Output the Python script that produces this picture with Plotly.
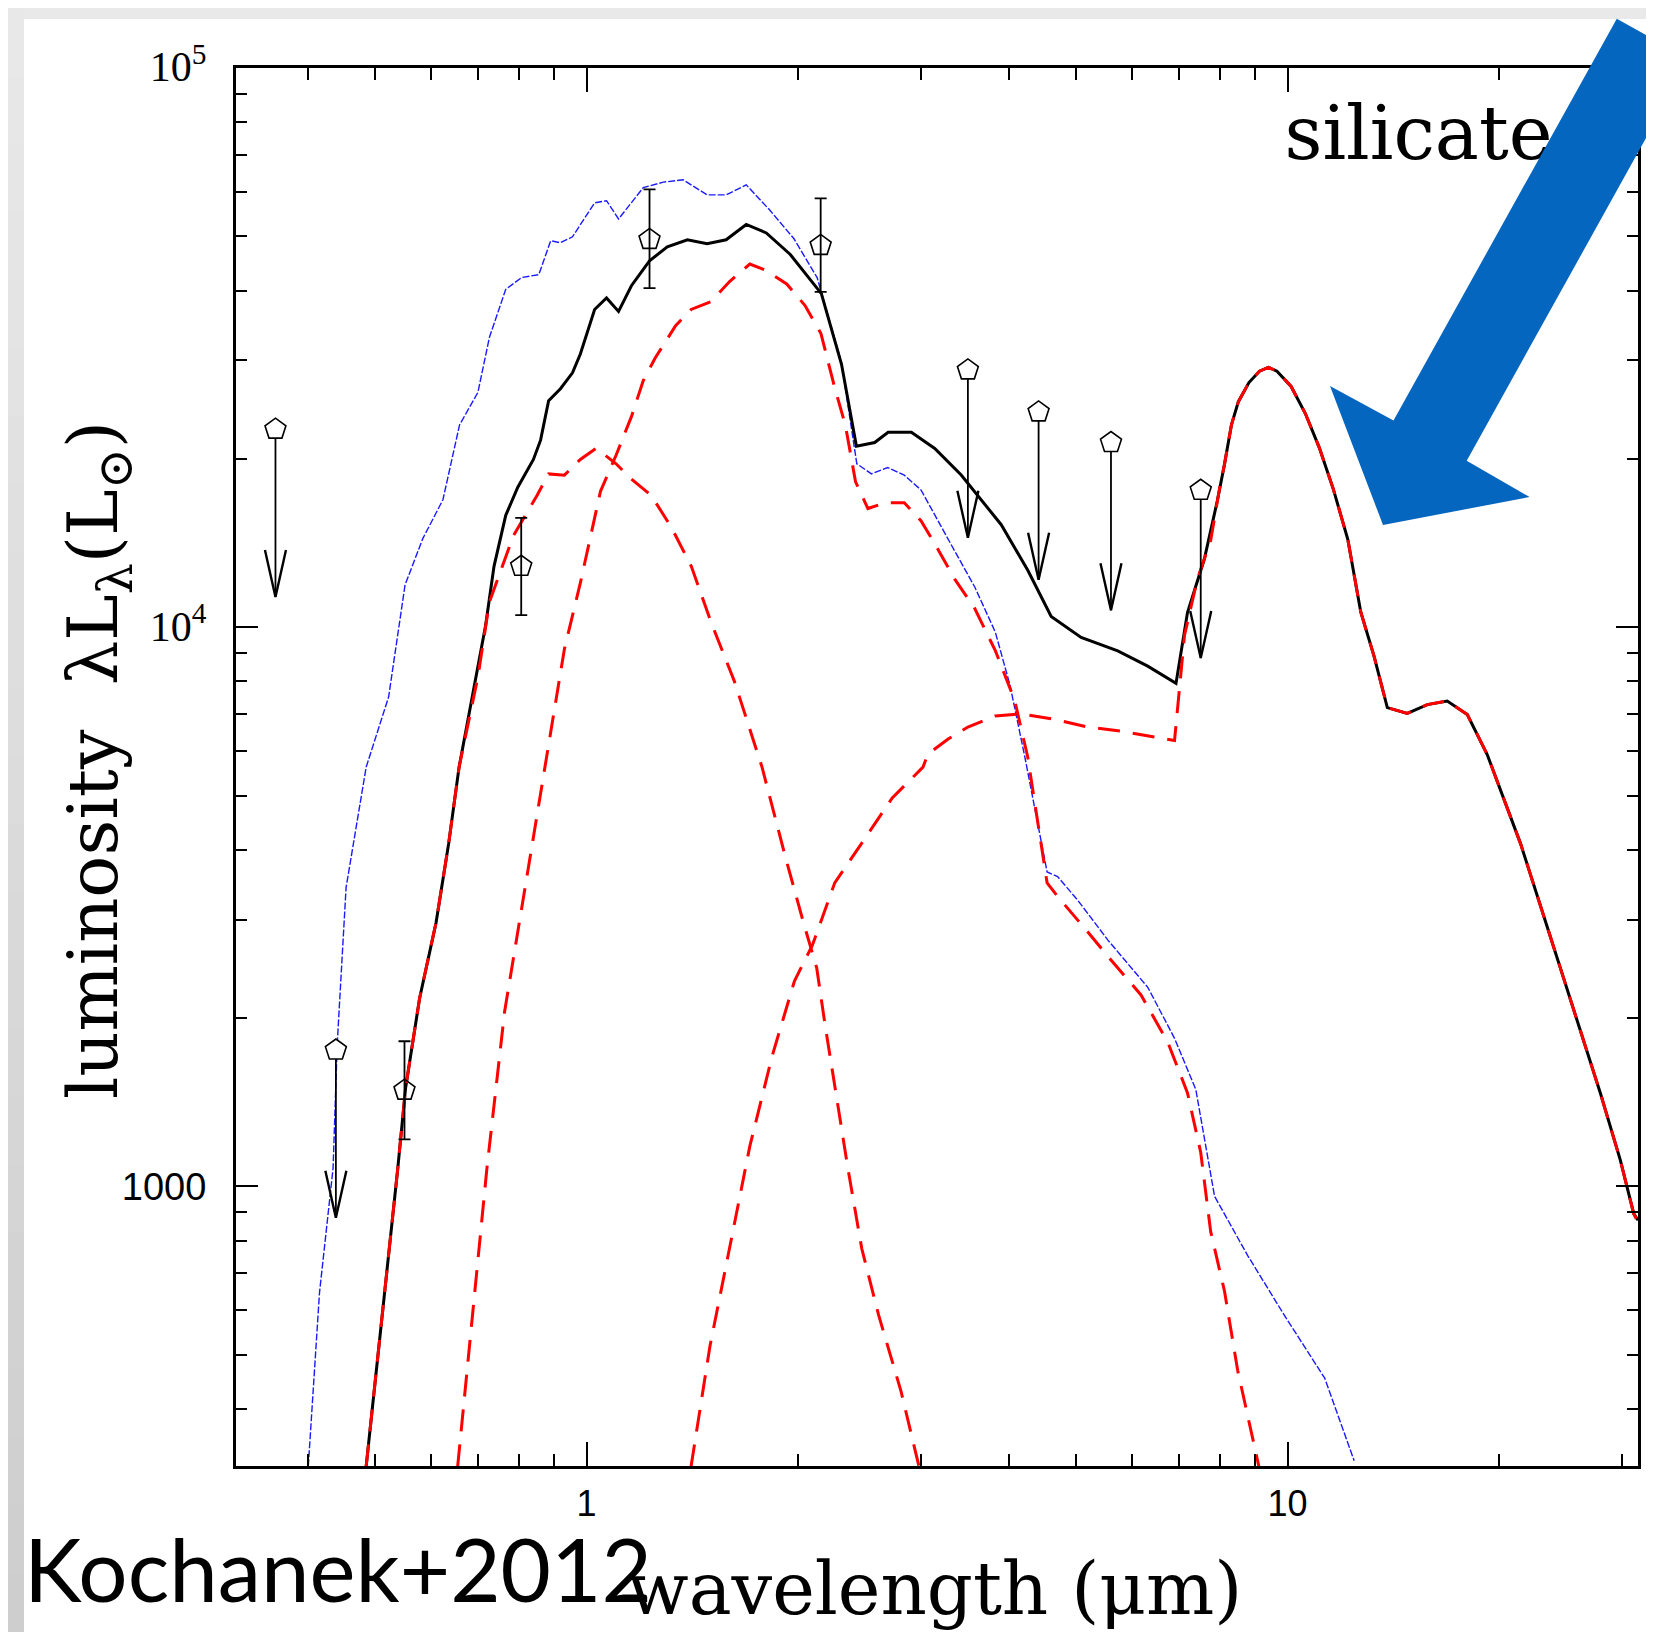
import numpy as np
import plotly.graph_objects as go

# ---------------- data (wavelength in micron, luminosity in L_sun) ----------------
blue_wl = [0.401, 0.416, 0.435, 0.441, 0.454, 0.471, 0.485, 0.522, 0.551, 0.584, 0.624, 0.659,
           0.700, 0.727, 0.767, 0.808, 0.855, 0.889, 0.918, 0.955, 1.027, 1.068, 1.111, 1.205,
           1.287, 1.374, 1.486, 1.582, 1.690, 1.828, 1.977, 2.133, 2.31, 2.43, 2.55, 2.69, 2.84,
           3.00, 3.17, 3.35, 3.58, 3.83, 4.02, 4.22, 4.54, 4.70, 5.02, 5.54, 6.32, 6.90, 7.40,
           7.61, 7.87, 8.77, 9.89, 11.3, 12.45]
blue_L = [316, 645, 1078, 1802, 3425, 4512, 5623, 7500, 11900, 14400, 16900, 23000,
          26300, 33000, 40200, 42200, 42700, 49100, 48700, 49900, 57400, 57900, 53700, 61100,
          62500, 63100, 59300, 59300, 61800, 55600, 49500, 42200, 29800, 19600, 18800, 19300, 18700,
          17600, 15500, 13700, 11800, 9800, 7870, 5860, 3650, 3580, 3250, 2760, 2270, 1840, 1490,
          1220, 960, 753, 589, 454, 323]

total_wl = [0.485, 0.514, 0.538, 0.552, 0.578, 0.610, 0.636, 0.658, 0.690, 0.718, 0.738, 0.767,
            0.798, 0.840, 0.860, 0.883, 0.918, 0.955, 0.980, 1.027, 1.068, 1.111, 1.159, 1.230,
            1.304, 1.393, 1.486, 1.582, 1.690, 1.805, 1.953, 2.163, 2.311, 2.427, 2.577, 2.693,
            2.907, 3.139, 3.424, 3.905, 4.263, 4.601, 5.077, 5.726, 6.318, 6.933, 7.20, 7.61,
            7.94, 8.12, 8.32, 8.51, 8.81, 9.12, 9.39, 9.66, 10.12, 10.6, 11.1, 11.63, 12.19,
            12.72, 13.29, 13.88, 14.82, 15.83, 16.90, 18.05, 19.27, 20.36, 21.50, 22.96, 24.51,
            26.17, 27.95, 29.84, 31.18, 31.62]
total_L = [316, 621, 1077, 1500, 2170, 2960, 4110, 5620, 7740, 10080, 12850, 15850,
           17800, 19950, 21600, 25400, 26700, 28500, 30800, 37000, 38800, 36700, 40800, 45200,
           47900, 49300, 48500, 49300, 52500, 50700, 46400, 39500, 29530, 21060, 21390, 22320,
           22320, 20880, 18710, 15250, 12630, 10450, 9585, 9073, 8518, 7935, 10620, 13240,
           16810, 19390, 23030, 25310, 27380, 28700, 29160, 28700, 26950, 24130, 20950, 17620, 14360,
           10650, 8866, 7180, 7010, 7270, 7380, 6980, 5920, 4927, 4102, 3172, 2453,
           1897, 1467, 1114, 894, 870]

# red dashed components
hot_wl = [0.485, 0.514, 0.538, 0.552, 0.578, 0.610, 0.636, 0.658, 0.700, 0.727, 0.787, 0.850,
          0.883, 0.930, 0.980, 1.033, 1.102, 1.159, 1.237, 1.321, 1.411, 1.504, 1.625, 1.780,
          1.920, 2.040, 2.130, 2.190, 2.250, 2.360, 2.470, 2.610, 2.810, 2.980]
hot_L = [316, 621, 1077, 1500, 2170, 2960, 4110, 5620, 8150, 11100, 14600, 17200,
         18800, 18700, 19950, 20900, 19600, 18400, 17200, 15100, 12850, 10240, 8010, 5620,
         3900, 2960, 2460, 1940, 1560, 1077, 774, 589, 430, 316]

star_wl = [0.655, 0.690, 0.721, 0.764, 0.811, 0.871, 0.930, 0.980, 1.047, 1.102, 1.159, 1.205,
           1.253, 1.340, 1.410, 1.504, 1.600, 1.710, 1.800, 1.930, 2.050, 2.160, 2.260, 2.340,
           2.420, 2.520, 2.670, 2.840, 3.000, 3.140, 3.350, 3.580, 3.830, 4.080, 4.260, 4.540,
           4.700, 5.190, 5.600, 6.180, 6.750, 7.200, 7.520, 7.770, 8.130, 8.490, 8.970, 9.100]
star_L = [316, 621, 1077, 2050, 3240, 5620, 9140, 12000, 17500, 20300, 23800, 27600,
          30300, 34600, 37000, 38200, 41500, 44600, 43500, 41100, 37600, 33500, 26800, 23000,
          18200, 16300, 16700, 16700, 15500, 14100, 12200, 10800, 9080, 7410, 5860, 3490,
          3300, 2850, 2540, 2200, 1810, 1470, 1150, 830, 650, 469, 339, 316]

dust_wl = [1.41, 1.50, 1.59, 1.71, 1.84, 1.98, 2.10, 2.26, 2.47, 2.73, 3.02, 3.07, 3.28, 3.50,
           3.83, 4.17, 4.66, 5.19, 5.78, 6.46, 6.90, 7.02, 7.13, 7.44, 7.77, 8.03, 8.12, 8.32,
           8.51, 8.81, 9.12, 9.39, 9.66, 10.12, 10.6, 11.1, 11.63, 12.19, 12.72, 13.29, 13.88,
           14.82, 15.83, 16.90, 18.05, 19.27, 20.36, 21.50, 22.96, 24.51, 26.17, 27.95, 29.84,
           31.18, 31.62]
dust_L = [316, 518, 746, 1180, 1710, 2330, 2700, 3490, 4110, 4950, 5620, 5930, 6310, 6630,
          6940, 7000, 6840, 6630, 6520, 6360, 6270, 7870, 9680, 12200, 14300, 18200, 19390, 23030,
          25310, 27380, 28700, 29160, 28700, 26950, 24130, 20950, 17620, 14360, 10650, 8866, 7180,
          7010, 7270, 7380, 6980, 5920, 4927, 4102, 3172, 2453, 1897, 1467, 1114,
          894, 863]

# photometric detections with error bars
det_wl = [0.550, 0.807, 1.230, 2.158]
det_L = [1486, 12850, 49360, 48160]
det_hi = [1818, 15690, 60670, 58460]
det_lo = [1214, 10510, 40410, 39770]

# upper limits
lim_wl = [0.360, 0.439, 3.50, 4.415, 5.60, 7.52]
lim_L = [22600, 1753, 28840, 24260, 21390, 17570]

x_tickvals = [1, 10]
x_ticktext = ["1", "10"]
y_tickvals = [1000, 1e4, 1e5]
SERIF_SPAN = '<span style="font-family:\'Liberation Serif\';font-size:42px">'
y_ticktext = ["1000",
              SERIF_SPAN + "10<sup>4</sup></span>",
              SERIF_SPAN + "10<sup>5</sup></span>"]
x_minor = [0.4, 0.5, 0.6, 0.7, 0.8, 0.9, 2, 3, 4, 5, 6, 7, 8, 9, 20, 30]
y_minor = [400, 500, 600, 700, 800, 900, 2000, 3000, 4000, 5000, 6000, 7000, 8000, 9000,
           20000, 30000, 40000, 50000, 60000, 70000, 80000, 90000]

# ---------------- figure ----------------
W, H = 1654, 1632
L_M, R_M, T_M, B_M = 228, 24, 60, 174
PW, PH = W - L_M - R_M, H - T_M - B_M


def px(X):
    return (X - L_M) / PW


def py(Y):
    return (H - B_M - Y) / PH


fig = go.Figure()

fig.add_trace(go.Scatter(x=blue_wl, y=blue_L, mode="lines",
                         line=dict(color="#1a1aff", width=1.4, dash="7px,2px")))
fig.add_trace(go.Scatter(x=total_wl, y=total_L, mode="lines",
                         line=dict(color="black", width=3)))
for wl, lum in [(hot_wl, hot_L), (star_wl, star_L), (dust_wl, dust_L)]:
    fig.add_trace(go.Scatter(x=wl, y=lum, mode="lines",
                             line=dict(color="#ff0000", width=3, dash="22px,13px")))

# detections
det_L_a = np.array(det_L)
fig.add_trace(go.Scatter(
    x=det_wl, y=det_L, mode="markers",
    marker=dict(symbol="pentagon-open", size=22, color="black", line=dict(width=1.6, color="black")),
    error_y=dict(type="data", symmetric=False,
                 array=list(np.array(det_hi) - det_L_a),
                 arrayminus=list(det_L_a - np.array(det_lo)),
                 color="black", thickness=1.8, width=6)))

# upper limits: stem + V arrowhead, computed from the data values
drop = 10 ** -0.30
head_dy = 10 ** 0.084
head_dx = 10 ** 0.015
sx, sy, hx, hy = [], [], [], []
for w, l in zip(lim_wl, lim_L):
    tip = l * drop
    sx += [w, w, None]
    sy += [l, tip, None]
    hx += [w / head_dx, w, w * head_dx, None]
    hy += [tip * head_dy, tip, tip * head_dy, None]
fig.add_trace(go.Scatter(x=sx, y=sy, mode="lines", line=dict(color="black", width=1.8)))
fig.add_trace(go.Scatter(x=hx, y=hy, mode="lines", line=dict(color="black", width=2.4)))
fig.add_trace(go.Scatter(
    x=lim_wl, y=lim_L, mode="markers",
    marker=dict(symbol="pentagon", size=22, color="white", line=dict(width=1.6, color="black"))))

# "silicate" label (as trace text so the arrow can cover it)
fig.add_trace(go.Scatter(x=[9.9], y=[74100], mode="text", text=["silicate"],
                         textposition="middle right",
                         textfont=dict(family="DejaVu Serif", size=74, color="black")))

axis_common = dict(type="log", showgrid=False, zeroline=False, showline=True, linecolor="black",
                   linewidth=3, mirror="ticks", ticks="inside", tickcolor="black", tickwidth=2)

fig.update_layout(
    width=W, height=H, autosize=False,
    margin=dict(l=L_M, r=R_M, t=T_M, b=B_M, pad=0),
    paper_bgcolor="white", plot_bgcolor="white", showlegend=False,
    xaxis=dict(axis_common, range=[-0.5, 1.5], tickmode="array", tickvals=x_tickvals,
               ticktext=x_ticktext, ticklen=24, ticklabelstandoff=4,
               tickfont=dict(family="Liberation Sans", size=36, color="black"),
               minor=dict(tickmode="array", tickvals=x_minor, ticks="inside", ticklen=12,
                          tickwidth=1.8, tickcolor="black", showgrid=False)),
    yaxis=dict(axis_common, range=[2.5, 5.0], tickmode="array", tickvals=y_tickvals,
               ticktext=y_ticktext, ticklen=22, ticklabelstandoff=19,
               tickfont=dict(family="Liberation Sans", size=38, color="black"),
               minor=dict(tickmode="array", tickvals=y_minor, ticks="inside", ticklen=11,
                          tickwidth=1.8, tickcolor="black", showgrid=False)),
)

shapes = []
# slide background: top band and left strip with vertical gradient
shapes.append(dict(type="rect", xref="paper", yref="paper", x0=px(0), x1=px(W), y0=py(0), y1=py(11),
                   fillcolor="#e9e9e9", line=dict(width=0), layer="below"))
n_strip = 24
for i in range(n_strip):
    y0 = i * H / n_strip
    y1 = (i + 1) * H / n_strip
    g = int(round(233 - (233 - 205) * (i + 0.5) / n_strip))
    shapes.append(dict(type="rect", xref="paper", yref="paper", x0=px(0), x1=px(16),
                       y0=py(y0), y1=py(y1 + 1), fillcolor=f"rgb({g},{g},{g})",
                       line=dict(width=0), layer="below"))

# big blue arrow pointing to the silicate feature
arrow_pts = [(1608.8, 10.7), (1681.8, 51.3), (1458.7, 452.7), (1521.6, 489.0),
             (1375.0, 517.0), (1322.0, 378.0), (1385.5, 412.5)]
path = "M " + " L ".join(f"{px(X):.5f},{py(Y):.5f}" for X, Y in arrow_pts) + " Z"
shapes.append(dict(type="path", xref="paper", yref="paper", path=path,
                   fillcolor="#0566c0", line=dict(width=0), layer="above"))
fig.update_layout(shapes=shapes)

annotations = [
    dict(text="wavelength (μm)", xref="paper", yref="paper", x=px(926), y=py(1581),
         xanchor="center", yanchor="middle", showarrow=False,
         font=dict(family="DejaVu Serif", size=72, color="black")),
    dict(text="luminosity  λL<sub>λ</sub>(L<sub>⊙</sub>)", xref="paper", yref="paper",
         x=px(90), y=py(752), xanchor="center", yanchor="middle", textangle=-90, showarrow=False,
         font=dict(family="DejaVu Serif", size=70, color="black")),
    dict(text="Kochanek+2012", xref="paper", yref="paper", x=px(14), y=py(1560),
         xanchor="left", yanchor="middle", showarrow=False,
         font=dict(family="Lato", size=87, color="black")),
]
fig.update_layout(annotations=annotations)

fig.write_html("out.html")
